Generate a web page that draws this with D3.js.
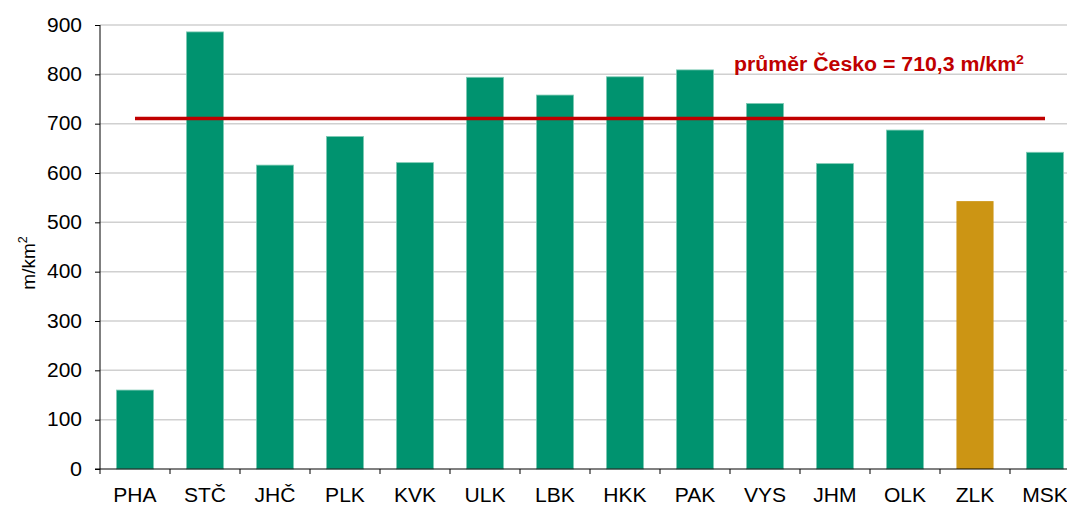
<!DOCTYPE html>
<html>
<head>
<meta charset="utf-8">
<script src="https://cdn.jsdelivr.net/npm/d3@7"></script>
<style>
  body { margin: 0; background: #fff; }
  svg { display: block; font-family: Arial, "Liberation Sans", sans-serif; }
</style>
</head>
<body>
<div id="chart"></div>
<script>
// kraje
const regions = ["PHA", "STČ", "JHČ", "PLK", "KVK", "ULK", "LBK", "HKK", "PAK", "VYS", "JHM", "OLK", "ZLK", "MSK"];
// hustota m/km2
const density = [160, 886, 616, 674, 621, 794, 758, 795, 809, 741, 619, 687, 543, 642];
const highlighted = ["ZLK"];
const average = 710.3;
const yTicks = [0, 100, 200, 300, 400, 500, 600, 700, 800, 900];

function init() {
  var W = 1067, H = 505;
  var margin = { top: 25, right: -13, bottom: 36, left: 100 },
    width = W - margin.left - margin.right,
    height = H - margin.top - margin.bottom;

  var svg = d3
    .select("#chart")
    .append("svg")
    .attr("width", W)
    .attr("height", H);

  var g = svg
    .append("g")
    .attr("transform", "translate(" + margin.left + "," + margin.top + ")");

  var x = d3
    .scaleBand()
    .domain(regions)
    .range([0, width])
    .paddingInner(0.47)
    .paddingOuter(0.235);

  var y = d3.scaleLinear().domain([0, 900]).range([height, 0]);

  // gridlines
  g.append("g")
    .selectAll("line")
    .data(yTicks.slice(1))
    .enter()
    .append("line")
    .attr("x1", 0)
    .attr("x2", width)
    .attr("y1", function (d) { return y(d); })
    .attr("y2", function (d) { return y(d); })
    .attr("stroke", "#d0d0d0")
    .attr("stroke-width", 1.5);

  // bars
  var data = regions.map(function (r, i) { return { region: r, value: density[i] }; });
  g.append("g")
    .selectAll("rect")
    .data(data)
    .enter()
    .append("rect")
    .attr("x", function (d) { return x(d.region); })
    .attr("width", x.bandwidth())
    .attr("y", function (d) { return y(d.value); })
    .attr("height", function (d) { return y(0) - y(d.value); })
    .attr("fill", function (d) { return highlighted.indexOf(d.region) >= 0 ? "#CC9514" : "#00936F"; })
    .attr("stroke", function (d) { return highlighted.indexOf(d.region) >= 0 ? "none" : "#7fcbb5"; })
    .attr("stroke-width", 0.8);

  // Y axis
  var yAxis = g.append("g")
    .call(d3.axisLeft(y).tickValues(yTicks).tickSize(5).tickPadding(13).tickFormat(d3.format("d")));
  yAxis.select(".domain").attr("stroke", "#000").attr("d", "M0," + y(0) + "V" + y(900));
  yAxis.selectAll(".tick line").attr("stroke", "#000");
  yAxis.selectAll("text")
    .style("font-size", "19.5px")
    .attr("fill", "#000")
    .attr("textLength", 35)
    .attr("lengthAdjust", "spacingAndGlyphs")
    .each(function (d) {
      if (d < 100) d3.select(this).attr("textLength", 12);
    });

  // X axis
  var xAxis = g.append("g").attr("transform", "translate(0," + height + ")");
  xAxis.append("line")
    .attr("x1", -5).attr("x2", width)
    .attr("stroke", "#000");
  var step = x.step();
  xAxis.selectAll(".sep")
    .data(regions)
    .enter()
    .append("line")
    .attr("class", "sep")
    .attr("x1", function (d, i) { return i * step; })
    .attr("x2", function (d, i) { return i * step; })
    .attr("y1", 0)
    .attr("y2", 5)
    .attr("stroke", "#000");
  xAxis.selectAll(".lab")
    .data(regions)
    .enter()
    .append("text")
    .attr("class", "lab")
    .attr("x", function (d) { return x(d) + x.bandwidth() / 2; })
    .attr("y", 33)
    .attr("text-anchor", "middle")
    .style("font-size", "19.5px")
    .text(function (d) { return d; })
    .each(function () {
      var w = this.getComputedTextLength();
      d3.select(this).attr("textLength", w * 1.08).attr("lengthAdjust", "spacingAndGlyphs");
    });

  // average line
  g.append("line")
    .attr("x1", x(regions[0]) + x.bandwidth() / 2)
    .attr("x2", x(regions[regions.length - 1]) + x.bandwidth() / 2)
    .attr("y1", y(average))
    .attr("y2", y(average))
    .attr("stroke", "#C00000")
    .attr("stroke-width", 3.5);

  var avgText = g.append("text")
    .attr("x", 634)
    .attr("y", 46)
    .attr("fill", "#C00000")
    .style("font-size", "19.5px")
    .style("font-weight", "bold")
    .attr("textLength", 290)
    .attr("lengthAdjust", "spacingAndGlyphs");
  avgText.append("tspan").text("průměr Česko = 710,3 m/km");
  avgText.append("tspan").attr("dy", -7).style("font-size", "13px").text("2");

  // Y label
  var yLab = svg.append("text")
    .attr("transform", "translate(35,263) rotate(-90)")
    .attr("text-anchor", "middle")
    .style("font-size", "19px");
  yLab.append("tspan").text("m/km");
  yLab.append("tspan").attr("dy", -8).style("font-size", "12.5px").text("2");
}

window.onload = init;
</script>
</body>
</html>
